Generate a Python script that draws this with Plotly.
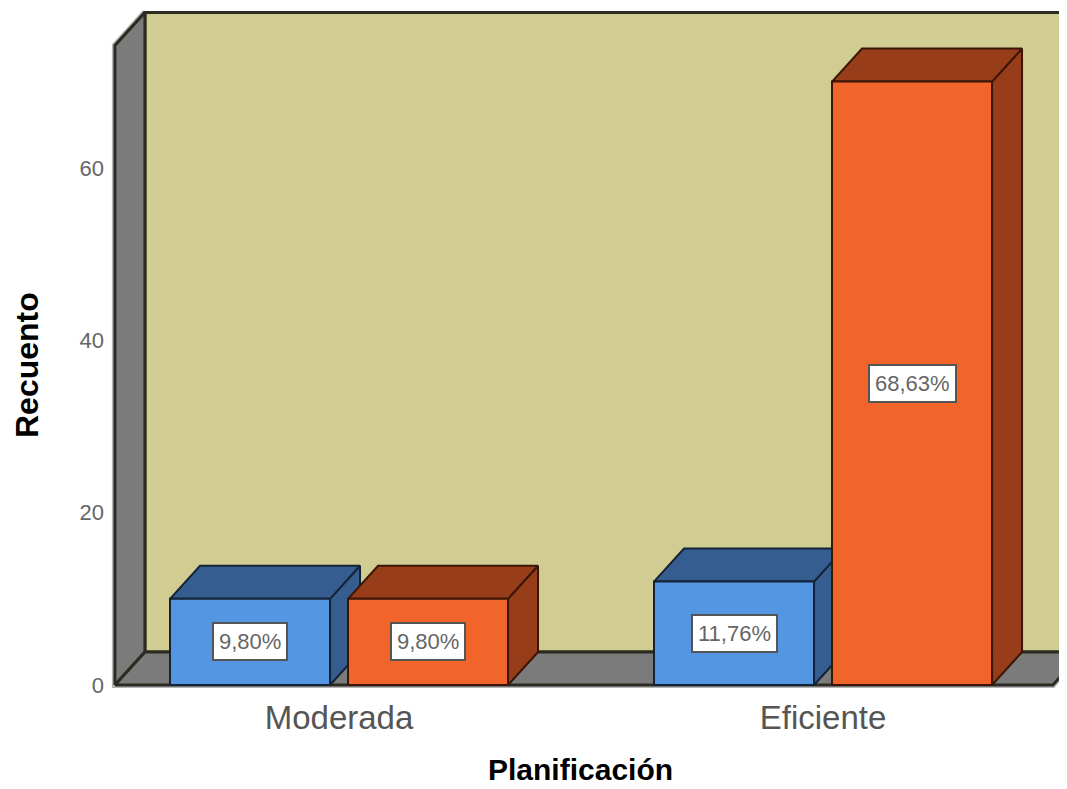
import plotly.graph_objects as go

# ---- data ----
categories = ["Moderada", "Eficiente"]
counts_blue = [10, 12]
counts_orange = [10, 70]
y_ticks = [0, 20, 40, 60]
total = sum(counts_blue) + sum(counts_orange)

def pct(v):
    return f"{100 * v / total:.2f}".replace(".", ",") + "%"

# ---- style / geometry (axis units) ----
BAR_W = 0.3306
GAP = 0.0372
DX, DY = 0.062, 3.83          # oblique depth offset
XL, XR = -0.463, 1.475        # floor front extent
WALL_H = 74.2
PX_X = 484.0                  # pixels per category unit
PX_Y = 8.62                   # pixels per count unit
X_RANGE = [-0.4835, -0.4835 + 962 / PX_X]
Y_RANGE = [-1.16, -1.16 + 687 / PX_Y]

FONT = "Liberation Sans, Arial, sans-serif"
wall_back = "#D1CC91"
wall_side = "#7B7B7B"
edge = "#2B2B22"
blue_front, blue_dark, blue_edge = "#5596E2", "#365D8F", "#142336"
orange_front, orange_dark, orange_edge = "#F2652A", "#973D1A", "#3A1606"

fig = go.Figure()

def poly(xs, ys, fill, line, width=2):
    fig.add_trace(go.Scatter(
        x=list(xs) + [xs[0]], y=list(ys) + [ys[0]], mode="lines",
        fill="toself", fillcolor=fill, line=dict(color=line, width=width),
        hoverinfo="skip", showlegend=False))

# light outer shadow of walls
fig.add_trace(go.Scatter(
    x=[XL + DX, XL, XL, XR, XR + DX], y=[WALL_H + DY, WALL_H, 0, 0, DY],
    mode="lines", line=dict(color="#B5B5B5", width=6),
    hoverinfo="skip", showlegend=False))
# back wall
poly([XL + DX, XL + DX, XR + DX + 0.2, XR + DX + 0.2],
     [DY, WALL_H + DY, WALL_H + DY, DY], wall_back, edge, 3)
# left wall
poly([XL, XL, XL + DX, XL + DX], [0, WALL_H, WALL_H + DY, DY], wall_side, edge, 3)
# floor
poly([XL, XL + DX, XR + DX, XR], [0, DY, DY, 0], wall_side, edge, 3)

def bar3d(x0, v, front, dark, ln):
    x1 = x0 + BAR_W
    poly([x1, x1, x1 + DX, x1 + DX], [0, v, v + DY, DY], dark, ln)
    poly([x0, x0 + DX, x1 + DX, x1], [v, v + DY, v + DY, v], dark, ln)
    poly([x0, x1, x1, x0], [0, 0, v, v], front, ln)

annotations = []
for i, cat in enumerate(categories):
    xb = i - GAP / 2 - BAR_W
    xo = i + GAP / 2
    bar3d(xb, counts_blue[i], blue_front, blue_dark, blue_edge)
    bar3d(xo, counts_orange[i], orange_front, orange_dark, orange_edge)
    for x0, v in ((xb, counts_blue[i]), (xo, counts_orange[i])):
        annotations.append(dict(
            x=x0 + BAR_W / 2, y=v / 2, xref="x", yref="y", text=pct(v),
            showarrow=False, bgcolor="white", bordercolor="#555555",
            borderwidth=2, borderpad=5,
            font=dict(family=FONT, size=22, color="#666666")))

annotations.append(dict(
    x=-0.0811, y=0.4803, xref="paper", yref="paper", text="<b>Recuento</b>",
    textangle=-90, showarrow=False, xanchor="center", yanchor="middle",
    font=dict(family=FONT, size=32, color="black")))
annotations.append(dict(
    x=0.4948, y=-0.108, xref="paper", yref="paper", text="<b>Planificación</b>",
    showarrow=False, xanchor="center", yanchor="middle",
    font=dict(family=FONT, size=30, color="black")))

fig.update_layout(
    width=1059, height=781,
    margin=dict(l=97, r=0, t=0, b=94),
    paper_bgcolor="white", plot_bgcolor="white",
    showlegend=False, annotations=annotations,
    xaxis=dict(range=X_RANGE, tickvals=list(range(len(categories))),
               ticktext=categories, showgrid=False, zeroline=False,
               showline=False, ticks="",
               tickfont=dict(family=FONT, size=33, color="#555555")),
    yaxis=dict(range=Y_RANGE, tickvals=y_ticks, showgrid=False,
               zeroline=False, showline=False, ticks="",
               tickfont=dict(family=FONT, size=22, color="#666666")),
)

fig.write_html("out.html")
